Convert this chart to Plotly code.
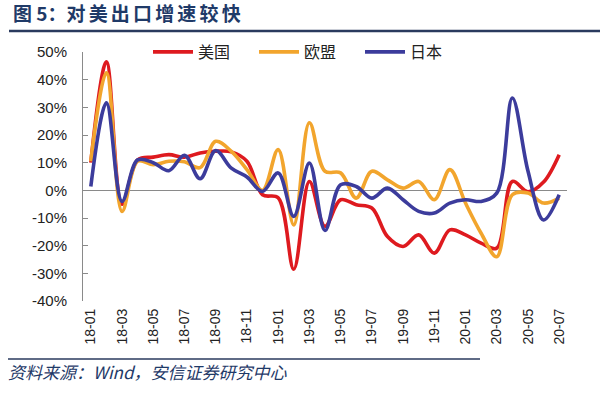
import plotly.graph_objects as go

months = ["18-01","18-02","18-03","18-04","18-05","18-06","18-07","18-08","18-09","18-10",
          "18-11","18-12","19-01","19-02","19-03","19-04","19-05","19-06","19-07","19-08",
          "19-09","19-10","19-11","19-12","20-01","20-02","20-03","20-04","20-05","20-06","20-07"]
usa = [10.0, 46.5, -5.0, 11.0, 12.0, 12.9, 12.0, 13.5, 14.1, 13.9,
       10.5, -1.6, -2.7, -28.5, 3.2, -13.0, -3.4, -5.2, -6.4, -16.7,
       -20.3, -16.1, -22.7, -14.3, -16.1, -19.1, -20.9, 3.2, -0.5, 3.0, 12.9]
eu = [10.5, 42.5, -7.6, 10.5, 9.3, 10.5, 10.3, 8.2, 17.7, 14.1,
      7.5, 0.0, 14.7, -12.5, 24.4, 6.9, 6.3, -2.8, 6.9, 3.8,
      0.8, 3.2, -3.4, 7.5, -4.6, -15.5, -24.0, -1.6, -1.0, -4.6, -2.8]
japan = [1.4, 31.6, -4.0, 11.0, 10.0, 7.1, 12.7, 4.2, 14.4, 8.0,
         4.8, -0.4, 6.3, -9.4, 9.9, -14.5, 2.0, 1.4, -2.8, 0.8,
         -3.4, -7.6, -8.2, -4.6, -3.4, -4.0, -1.0, 33.4, 7.0, -10.7, -1.6]
names = ["美国", "欧盟", "日本"]
colors = ["#DE1A1F", "#F2A52D", "#3C3C9C"]
ytick_vals = [-40, -30, -20, -10, 0, 10, 20, 30, 40, 50]
xtick_labels = months[::2]

FONT = "Arial, 'Liberation Sans', 'Noto Sans CJK SC', sans-serif"
CJK = "'Noto Sans CJK SC', sans-serif"

L, R, T, B = 83, 33, 52, 95
W, H = 600, 396
PW, PH = W - L - R, H - T - B

def px(x):
    return (x - L) / PW

def py(y):
    return (H - B - y) / PH

sp = "\u2006"
title_text = "图 5：" + sp.join("对美出口增速较快")

xi = list(range(len(months)))
fig = go.Figure()
for name, vals, c in zip(names, [usa, eu, japan], colors):
    fig.add_trace(go.Scatter(x=xi, y=vals, name=name, mode="lines",
                             line=dict(color=c, width=3.6, shape="spline", smoothing=1.0)))

fig.update_layout(
    width=W, height=H,
    margin=dict(l=L, r=R, t=T, b=B, autoexpand=False),
    paper_bgcolor="white", plot_bgcolor="white",
    font=dict(family=FONT, color="#222222", size=15),
    showlegend=True,
    legend=dict(orientation="h", x=px(148), y=1.0, xanchor="left", yanchor="middle",
                font=dict(family=CJK, size=16, color="#222222"),
                entrywidth=51, entrywidthmode="pixels", bgcolor="rgba(0,0,0,0)",
                tracegroupgap=0, itemwidth=40),
    title=dict(text=title_text, x=13 / W, y=1 - 14 / H,
               xref="container", yref="container", xanchor="left", yanchor="middle",
               font=dict(family=CJK, size=19, color="#1F3A68", weight="bold")),
    xaxis=dict(range=[-0.5, len(months) - 0.5], tickmode="array",
               tickvals=xi[::2], ticktext=xtick_labels, tickangle=-90,
               showline=False, showgrid=False, zeroline=False, ticks="",
               tickfont=dict(size=14, color="#222222"), ticklabelstandoff=4),
    xaxis2=dict(overlaying="x", anchor="free", position=40 / 90, side="bottom",
                range=[-0.5, len(months) - 0.5], tickmode="array",
                tickvals=[v - 0.5 for v in xi[::2]], ticks="inside", ticklen=4,
                tickcolor="#8A8A8A", showticklabels=False, showline=False,
                showgrid=False, zeroline=False),
    yaxis=dict(range=[-40, 50], tickmode="array", tickvals=ytick_vals,
               ticktext=[f"{v}%" for v in ytick_vals],
               showline=True, linecolor="#8A8A8A", linewidth=1,
               ticks="inside", ticklen=5, tickcolor="#8A8A8A",
               showgrid=False, zeroline=True, zerolinecolor="#8A8A8A", zerolinewidth=1,
               tickfont=dict(size=15, color="#222222"), ticklabelstandoff=12),
)

fig.add_shape(type="line", xref="paper", yref="paper", x0=px(9), x1=px(600),
              y0=py(31), y1=py(31), line=dict(color="#2A3A5E", width=2.5))
fig.add_shape(type="line", xref="paper", yref="paper", x0=px(8), x1=px(480),
              y0=py(359), y1=py(359), line=dict(color="#2A3A5E", width=1.5))
fig.add_annotation(text="<i>资料来源：Wind，安信证券研究中心</i>", xref="paper", yref="paper",
                   x=px(6), y=py(371), xanchor="left", yanchor="middle", showarrow=False,
                   font=dict(family=CJK, size=17, color="#1F3A68"))

fig.write_html("out.html", config={"displayModeBar": False},
               post_script="document.body.style.margin='0';document.body.style.overflow='hidden';")
